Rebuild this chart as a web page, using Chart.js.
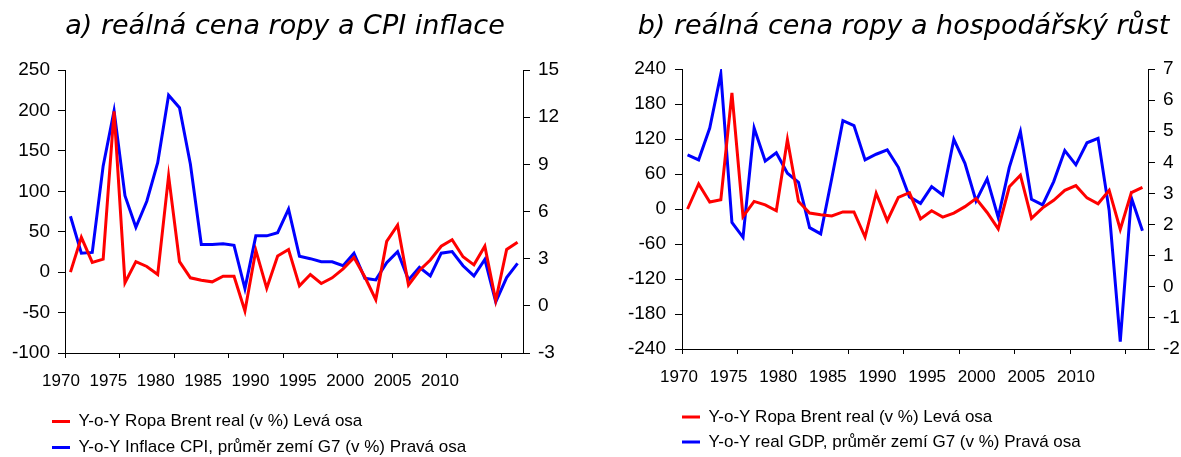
<!DOCTYPE html>
<html><head><meta charset="utf-8">
<script src="https://cdn.jsdelivr.net/npm/chart.js@4.4.1/dist/chart.umd.min.js"></script>
<style>
html,body{margin:0;padding:0;background:#fff;overflow:hidden}
#wrap{position:relative;width:1181px;height:457px;background:#fff}
canvas{position:absolute;top:0}
</style>
</head><body>
<div id="wrap">
<canvas id="ca" width="590" height="457" style="left:0px"></canvas>
<canvas id="cb" width="591" height="457" style="left:590px"></canvas>
</div>
<script>
// ---- data ----
const years = ['1970','1971','1972','1973','1974','1975','1976','1977','1978','1979',
  '1980','1981','1982','1983','1984','1985','1986','1987','1988','1989',
  '1990','1991','1992','1993','1994','1995','1996','1997','1998','1999',
  '2000','2001','2002','2003','2004','2005','2006','2007','2008','2009',
  '2010','2011'];
const xTickLabels = ['1970','1975','1980','1985','1990','1995','2000','2005','2010'];
const oilReal = [0, 43, 12, 16, 199, -13, 13, 7, -3, 119,
  13, -7, -10, -12, -5, -5, -48, 27, -20, 20,
  28, -17, -3, -14, -7, 4, 18, -6, -34, 38,
  58, -16, 2, 15, 32, 40, 19, 9, 32, -35,
  28, 37];
const cpiG7 = [5.7, 3.35, 3.4, 8.9, 12.4, 7.0, 5.0, 6.65, 9.1, 13.4,
  12.6, 9.0, 3.9, 3.9, 3.95, 3.85, 1.1, 4.45, 4.45, 4.65,
  6.15, 3.15, 3.0, 2.8, 2.8, 2.55, 3.35, 1.75, 1.65, 2.75,
  3.45, 1.65, 2.45, 1.9, 3.35, 3.45, 2.55, 1.9, 2.95, 0.25,
  1.8, 2.7];
const gdpG7 = [4.24, 4.08, 5.1, 6.84, 2.07, 1.59, 5.1, 4.04, 4.31, 3.65,
  3.36, 1.9, 1.7, 3.49, 5.34, 5.18, 4.08, 4.26, 4.4, 3.84,
  2.89, 2.68, 3.22, 2.95, 4.74, 3.97, 2.76, 3.47, 2.23, 3.84,
  4.99, 2.81, 2.63, 3.38, 4.38, 3.92, 4.63, 4.77, 2.45, -1.76,
  2.86, 1.8];
const yLeftA = [-100, -50, 0, 50, 100, 150, 200, 250];
const yRightA = [-3, 0, 3, 6, 9, 12, 15];
const yLeftB = [-240, -180, -120, -60, 0, 60, 120, 180, 240];
const yRightB = [-2, -1, 0, 1, 2, 3, 4, 5, 6, 7];
const titleA = 'a) reálná cena ropy a CPI inflace';
const titleB = 'b) reálná cena ropy a hospodářský růst';
const legendOil = 'Y-o-Y Ropa Brent real (v %) Levá osa';
const legendCpi = 'Y-o-Y Inflace CPI, průměr zemí G7 (v %) Pravá osa';
const legendGdp = 'Y-o-Y real GDP, průměr zemí G7 (v %) Pravá osa';

// ---- styling ----
const FONT = "'Liberation Sans', Arial, sans-serif";
const RED = '#ff0000', BLUE = '#0000ff', BLACK = '#000000';
Chart.defaults.font.family = FONT;
Chart.defaults.color = BLACK;

const legendShift = {
  id: 'legendShift',
  afterLayout(chart, args, opts) {
    const l = chart.legend;
    if (!l) return;
    l.left += opts.dx; l.right += opts.dx;
    l.top += opts.dy; l.bottom += opts.dy;
  }
};

function yAxis(pos, ticks, pad, width) {
  return {
    type: 'linear', position: pos,
    min: ticks[0], max: ticks[ticks.length - 1],
    ticks: { stepSize: ticks[1] - ticks[0], color: BLACK, padding: pad, font: { family: FONT, size: 19 } },
    grid: { drawOnChartArea: false, drawTicks: true, tickLength: 7, color: BLACK, lineWidth: 1 },
    border: { display: true, color: BLACK, width: 1 },
    afterFit: s => { s.width = width; }
  };
}

function makeChart(id, p) {
  return new Chart(document.getElementById(id), {
    type: 'line',
    data: {
      labels: years,
      datasets: [
        { label: legendOil, data: oilReal, xAxisID: 'x', yAxisID: 'y',
          borderColor: RED, backgroundColor: RED, borderWidth: 3, pointRadius: 0, tension: 0, fill: false },
        { label: p.rightLabel, data: p.rightData, xAxisID: 'x', yAxisID: 'y2',
          borderColor: BLUE, backgroundColor: BLUE, borderWidth: 3, pointRadius: 0, tension: 0, fill: false }
      ]
    },
    options: {
      responsive: false, animation: false, events: [],
      layout: { padding: { left: p.padL, right: p.padR, top: 0, bottom: 0 } },
      plugins: {
        title: { display: true, text: p.title, color: BLACK,
          font: { family: "'DejaVu Sans', Verdana, sans-serif", style: 'italic', weight: 'normal', size: 27 },
          padding: { top: p.titleTop, bottom: p.titleBottom } },
        legend: { display: true, position: 'bottom', align: 'start',
          labels: { boxWidth: 18, boxHeight: 3, color: BLACK, padding: p.legPad,
            font: { family: FONT, size: 17 },
            generateLabels(chart) {
              const items = Chart.defaults.plugins.legend.labels.generateLabels(chart);
              items.forEach(it => { it.lineWidth = 0; });
              return items;
            } } },
        tooltip: { enabled: false },
        legendShift: { dx: p.legDx, dy: p.legDy }
      },
      scales: {
        x: { type: 'category', position: 'bottom', offset: true, weight: 0,
          grid: { offset: true, drawOnChartArea: false, drawTicks: true, tickLength: 5, lineWidth: 1,
            color: c => (c.index !== undefined && c.index % 5 === 0) ? BLACK : 'rgba(0,0,0,0)' },
          border: { display: true, color: BLACK, width: 1 },
          ticks: { display: false } },
        xl: { type: 'linear', position: 'bottom', weight: 1, min: p.lblMin, max: p.lblMax,
          grid: { display: false, drawTicks: false }, border: { display: false },
          ticks: { autoSkip: false, maxRotation: 0, minRotation: 0, padding: p.lblPad, color: BLACK,
            font: { family: FONT, size: 17 }, callback: v => String(v) },
          afterBuildTicks: s => { s.ticks = xTickLabels.map(v => ({ value: Number(v) })); },
          afterFit: s => { s.height = p.lblH; } },
        y: yAxis('left', p.yLeft, p.yPadL, p.yWL),
        y2: yAxis('right', p.yRight, 8, p.yWR)
      }
    },
    plugins: [legendShift]
  });
}

makeChart('ca', {
  title: titleA, rightLabel: legendCpi, rightData: cpiG7,
  yLeft: yLeftA, yRight: yRightA,
  padL: 0, padR: 20, yWL: 65, yWR: 47, yPadL: 8,
  titleTop: 11, titleBottom: 26.6,
  lblMin: 1970.422, lblMax: 2018.76, lblPad: 13, lblH: 37,
  legPad: 9, legDx: 43, legDy: 9
});
makeChart('cb', {
  title: titleB, rightLabel: legendGdp, rightData: gdpG7,
  yLeft: yLeftB, yRight: yRightB,
  padL: 36, padR: 0, yWL: 56, yWR: 33, yPadL: 9,
  titleTop: 11, titleBottom: 25.6,
  lblMin: 1970.302, lblMax: 2017.254, lblPad: 13, lblH: 43,
  legPad: 8, legDx: 48, legDy: 3.5
});
</script>
</body></html>
